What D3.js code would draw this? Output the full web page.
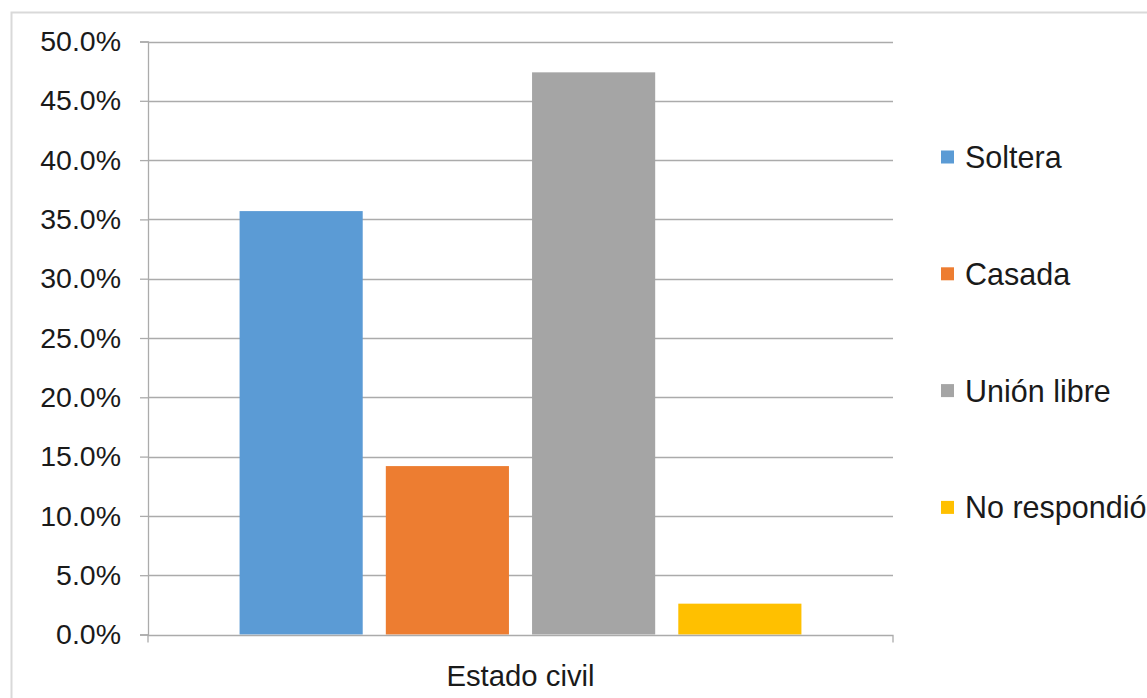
<!DOCTYPE html>
<html>
<head>
<meta charset="utf-8">
<script src="https://cdn.jsdelivr.net/npm/d3@7"></script>
<style>
  html, body { margin: 0; padding: 0; background: #fff; overflow: hidden; }
  svg { display: block; font-family: "Liberation Sans", Arial, sans-serif; }
</style>
</head>
<body>
<svg id="chart" width="1147" height="698"></svg>
<script>
const categories = ["Estado civil"];
const seriesNames = ["Soltera", "Casada", "Unión libre", "No respondió"];
const seriesValues = [35.7, 14.2, 47.4, 2.6];
const seriesColors = ["#5B9BD5", "#ED7D31", "#A5A5A5", "#FFC000"];
const yTicks = [0, 5, 10, 15, 20, 25, 30, 35, 40, 45, 50];

const svg = d3.select("#chart");
const W = 1147, H = 698;

// outer chart border
svg.append("rect")
  .attr("x", 11.5).attr("y", 12.5)
  .attr("width", W + 20).attr("height", H + 20)
  .attr("fill", "#fff").attr("stroke", "#D9D9D9").attr("stroke-width", 2);

const plot = { left: 148, right: 893, top: 41.5, bottom: 634.5 };

const y = d3.scaleLinear().domain([0, 50]).range([plot.bottom, plot.top]);
const x0 = d3.scaleBand().domain(categories).range([plot.left, plot.right])
  .paddingInner(0).paddingOuter(0.163);
const x1 = d3.scaleBand().domain(seriesNames).range([0, x0.bandwidth()])
  .paddingInner(0.158).paddingOuter(0);

// gridlines
svg.append("g")
  .selectAll("line")
  .data(yTicks.filter(d => d > 0))
  .join("line")
  .attr("x1", plot.left).attr("x2", plot.right)
  .attr("y1", d => Math.round(y(d)) + 0.5).attr("y2", d => Math.round(y(d)) + 0.5)
  .attr("stroke", "#ABABAB").attr("stroke-width", 1.3);

// y axis
const yAxis = d3.axisLeft(y).tickValues(yTicks)
  .tickFormat(d => d3.format(".1f")(d) + "%")
  .tickSize(8).tickPadding(19);
const gy = svg.append("g").attr("transform", `translate(${plot.left},0)`).call(yAxis);
gy.select(".domain").attr("stroke", "#ABABAB").attr("stroke-width", 1.3);
gy.selectAll(".tick line").attr("stroke", "#ABABAB").attr("stroke-width", 1.3);
gy.selectAll(".tick text")
  .attr("font-size", "28.5px").attr("fill", "#1a1a1a")
  .attr("font-family", "Liberation Sans, Arial, sans-serif");

// bars
const groups = svg.append("g")
  .selectAll("g")
  .data(categories)
  .join("g")
  .attr("transform", d => `translate(${x0(d)},0)`);

groups.selectAll("rect")
  .data(() => seriesNames.map((n, i) => ({ name: n, value: seriesValues[i], color: seriesColors[i] })))
  .join("rect")
  .attr("x", d => x1(d.name))
  .attr("width", x1.bandwidth())
  .attr("y", d => y(d.value))
  .attr("height", d => y(0) - y(d.value))
  .attr("fill", d => d.color);

// x axis
const x0Axis = d3.scaleBand().domain(categories).range([plot.left, plot.right]);
const xAxis = d3.axisBottom(x0Axis).tickSize(0).tickPadding(30);
const gx = svg.append("g").attr("transform", `translate(0,${Math.round(plot.bottom) + 0.5})`).call(xAxis);
gx.select(".domain").attr("stroke", "#ABABAB").attr("stroke-width", 1.3)
  .attr("d", `M${plot.left},7V0H${plot.right}V7`);
gx.selectAll(".tick text")
  .attr("font-size", "29.3px").attr("fill", "#1a1a1a")
  .attr("font-family", "Liberation Sans, Arial, sans-serif");

// legend
const legend = svg.append("g")
  .selectAll("g")
  .data(seriesNames)
  .join("g")
  .attr("transform", (d, i) => `translate(941,${157 + i * 116.8})`);
legend.append("rect")
  .attr("x", 0).attr("y", -6.5).attr("width", 13).attr("height", 13)
  .attr("fill", (d, i) => seriesColors[i]);
legend.append("text")
  .attr("x", 24).attr("y", 0).attr("dy", "0.36em")
  .attr("font-size", "30.5px").attr("fill", "#1a1a1a")
  .text(d => d);
</script>
</body>
</html>
